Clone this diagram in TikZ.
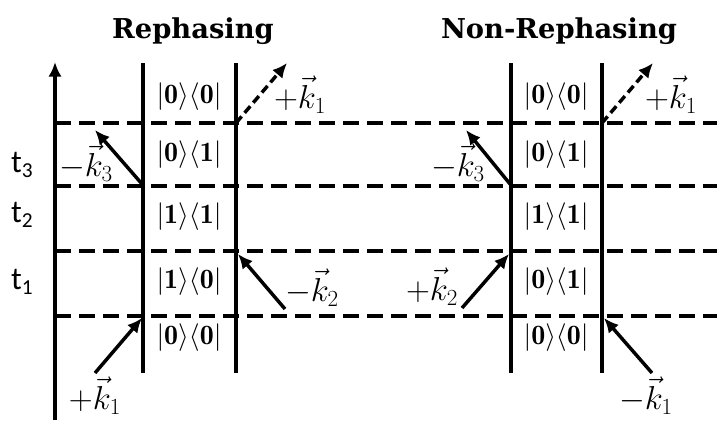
\documentclass[tikz,border=0pt]{standalone}
\usepackage{amsmath}
\usepackage{fontspec}
\usetikzlibrary{arrows.meta}
\newfontfamily\titlefont{DejaVu Serif}
\newfontfamily\tfont{Carlito}
\begin{document}
\begin{tikzpicture}[x=0.75pt,y=-0.75pt,
  solidline/.style={line width=2.6pt},
  dashline/.style={line width=2.6pt,dash pattern=on 12pt off 6pt},
  beam/.style={line width=2.6pt,-{Latex[length=11pt,width=10pt]}},
  dbeam/.style={line width=2.6pt,dash pattern=on 6.5pt off 3.5pt,-{Latex[length=11pt,width=10pt]}},
  title/.style={font=\titlefont\bfseries\fontsize{20.5}{24}\selectfont},
  ket/.style={font=\fontsize{21}{24}\selectfont},
  klab/.style={font=\fontsize{24}{26}\selectfont},
  tlab/.style={font=\tfont\fontsize{24}{26}\selectfont}]
\useasboundingbox (0,0) rectangle (717,421);
% titles
\node[title] (t1title) at (193,31) {Rephasing};
\node[title] (t2title) at (559,31) {Non-Rephasing};
% axis
\coordinate (axb) at (55,420);
\coordinate (axt) at (55,62);
\draw[solidline,-{Latex[length=11pt,width=10pt]}] (axb) -- (axt);
% dashed time lines
\foreach \y/\n in {123/a,186/b,251/c,316/d}{
  \coordinate (h\n l) at (55,\y);
  \coordinate (h\n r) at (717,\y);
  \draw[dashline] (h\n l) -- (h\n r);
}
% vertical lines
\foreach \x/\n in {143/p,236/q,511/r,602/s}{
  \coordinate (v\n t) at (\x,63);
  \coordinate (v\n b) at (\x,373);
  \draw[solidline] (v\n t) -- (v\n b);
}
% t labels
\node[tlab] (lt3) at (22,165) {t\raisebox{-0.35ex}{\fontsize{16}{16}\selectfont 3}};
\node[tlab] (lt2) at (22,215) {t\raisebox{-0.35ex}{\fontsize{16}{16}\selectfont 2}};
\node[tlab] (lt1) at (22,282) {t\raisebox{-0.35ex}{\fontsize{16}{16}\selectfont 1}};
% kets rephasing
\node[ket] (r1) at (189,97) {$\lvert\mathbf{0}\rangle\langle\mathbf{0}\rvert$};
\node[ket] (r2) at (189,155) {$\lvert\mathbf{0}\rangle\langle\mathbf{1}\rvert$};
\node[ket] (r3) at (189,217) {$\lvert\mathbf{1}\rangle\langle\mathbf{1}\rvert$};
\node[ket] (r4) at (189,282) {$\lvert\mathbf{1}\rangle\langle\mathbf{0}\rvert$};
\node[ket] (r5) at (189,338) {$\lvert\mathbf{0}\rangle\langle\mathbf{0}\rvert$};
% kets non-rephasing
\node[ket] (n1) at (556,97) {$\lvert\mathbf{0}\rangle\langle\mathbf{0}\rvert$};
\node[ket] (n2) at (556,155) {$\lvert\mathbf{0}\rangle\langle\mathbf{1}\rvert$};
\node[ket] (n3) at (556,217) {$\lvert\mathbf{1}\rangle\langle\mathbf{1}\rvert$};
\node[ket] (n4) at (556,282) {$\lvert\mathbf{0}\rangle\langle\mathbf{1}\rvert$};
\node[ket] (n5) at (556,338) {$\lvert\mathbf{0}\rangle\langle\mathbf{0}\rvert$};
% rephasing beams
\coordinate (ra1) at (236,123); \coordinate (ra2) at (287,63);
\draw[dbeam] (ra1) -- (ra2);
\node[klab] (kr1) at (300,95) {$+\vec{k}_1$};
\coordinate (rb1) at (142,184); \coordinate (rb2) at (95,130);
\draw[beam] (rb1) -- (rb2);
\node[klab] (kr3) at (86,163) {$-\vec{k}_3$};
\coordinate (rc1) at (285,309); \coordinate (rc2) at (238,254);
\draw[beam] (rc1) -- (rc2);
\node[klab] (kr2) at (312,288) {$-\vec{k}_2$};
\coordinate (rd1) at (95,373); \coordinate (rd2) at (142,318);
\draw[beam] (rd1) -- (rd2);
\node[klab] (kr4) at (95,396) {$+\vec{k}_1$};
% non-rephasing beams
\coordinate (na1) at (602,123); \coordinate (na2) at (653,63);
\draw[dbeam] (na1) -- (na2);
\node[klab] (kn1) at (671,95) {$+\vec{k}_1$};
\coordinate (nb1) at (510,184); \coordinate (nb2) at (466,130);
\draw[beam] (nb1) -- (nb2);
\node[klab] (kn3) at (458,163) {$-\vec{k}_3$};
\coordinate (nc1) at (462,308); \coordinate (nc2) at (509,254);
\draw[beam] (nc1) -- (nc2);
\node[klab] (kn2) at (432,287) {$+\vec{k}_2$};
\coordinate (nd1) at (652,373); \coordinate (nd2) at (604,318);
\draw[beam] (nd1) -- (nd2);
\node[klab] (kn4) at (646,396) {$-\vec{k}_1$};
\end{tikzpicture}
\end{document}
